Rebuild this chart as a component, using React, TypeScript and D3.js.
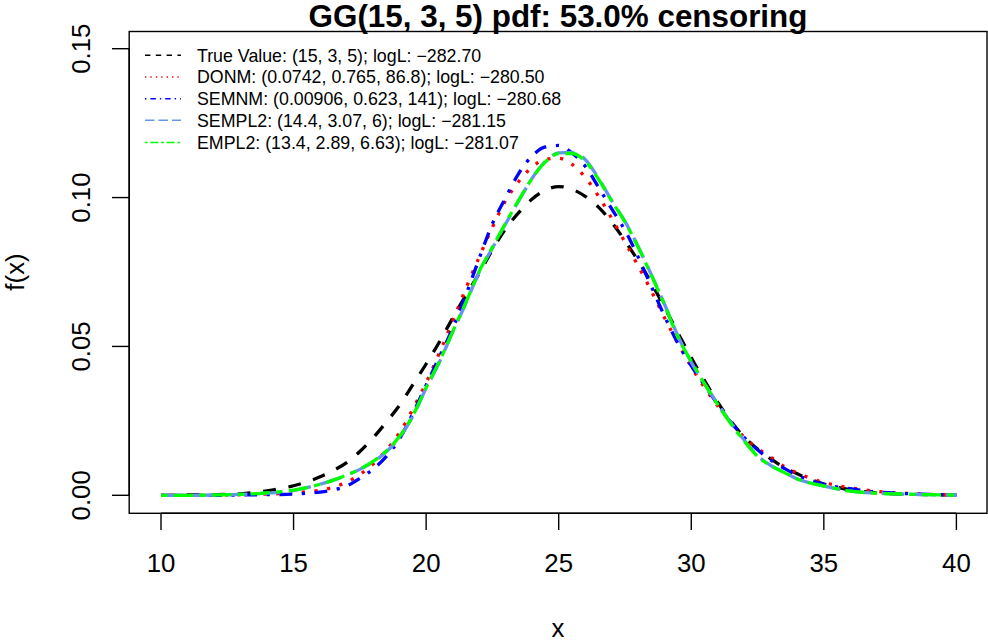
import React from "react";
import * as d3 from "d3";

const xs = [10, 11, 12, 13, 14, 15, 15.5, 16, 16.5, 17, 17.5, 18, 18.5, 19, 19.5, 20, 20.5, 21, 21.5, 22, 22.5, 23, 23.5, 24, 24.5, 25, 25.5, 26, 26.5, 27, 27.5, 28, 28.5, 29, 29.5, 30, 30.5, 31, 31.5, 32, 32.5, 33, 33.5, 34, 34.5, 35, 36, 37, 38, 39, 40];

const trueVals = [0.0000, 0.0001, 0.0002, 0.0005, 0.0015, 0.0032, 0.0045, 0.0062, 0.0083, 0.0110, 0.0147, 0.0193, 0.0246, 0.0303, 0.0372, 0.0441, 0.0515, 0.0595, 0.0672, 0.0745, 0.0825, 0.0895, 0.0950, 0.0995, 0.1025, 0.1037, 0.1028, 0.1004, 0.0968, 0.0917, 0.0855, 0.0787, 0.0712, 0.0630, 0.0545, 0.0462, 0.0385, 0.0312, 0.0248, 0.0195, 0.0155, 0.0122, 0.0094, 0.0072, 0.0053, 0.0038, 0.0018, 0.0008, 0.0004, 0.0002, 0.0001];

const donmVals = [0.0000, 0.0000, 0.0001, 0.0002, 0.0004, 0.0008, 0.0012, 0.0017, 0.0027, 0.0044, 0.0070, 0.0105, 0.0152, 0.0210, 0.0290, 0.0378, 0.0478, 0.0585, 0.0695, 0.0800, 0.0900, 0.0990, 0.1055, 0.1103, 0.1128, 0.1132, 0.1112, 0.1068, 0.1005, 0.0930, 0.0850, 0.0770, 0.0685, 0.0595, 0.0510, 0.0432, 0.0362, 0.0300, 0.0245, 0.0195, 0.0157, 0.0128, 0.0097, 0.0075, 0.0057, 0.0043, 0.0025, 0.0013, 0.0007, 0.0003, 0.0001];

const semnmVals = [0.0000, 0.0000, 0.0000, 0.0001, 0.0002, 0.0004, 0.0007, 0.0011, 0.0018, 0.0031, 0.0057, 0.0088, 0.0131, 0.0190, 0.0275, 0.0370, 0.0465, 0.0560, 0.0673, 0.0795, 0.0912, 0.1000, 0.1082, 0.1140, 0.1170, 0.1175, 0.1150, 0.1105, 0.1035, 0.0962, 0.0890, 0.0800, 0.0700, 0.0600, 0.0510, 0.0435, 0.0370, 0.0305, 0.0245, 0.0194, 0.0153, 0.0118, 0.0091, 0.0067, 0.0050, 0.0037, 0.0022, 0.0011, 0.0006, 0.0003, 0.0001];

const sempl2Vals = [0.0000, 0.0000, 0.0001, 0.0003, 0.0007, 0.0016, 0.0026, 0.0037, 0.0051, 0.0067, 0.0087, 0.0112, 0.0146, 0.0195, 0.0265, 0.0360, 0.0447, 0.0548, 0.0645, 0.0750, 0.0830, 0.0912, 0.0990, 0.1065, 0.1122, 0.1150, 0.1152, 0.1128, 0.1065, 0.0990, 0.0920, 0.0835, 0.0740, 0.0640, 0.0535, 0.0447, 0.0375, 0.0307, 0.0243, 0.0185, 0.0133, 0.0100, 0.0078, 0.0055, 0.0041, 0.0031, 0.0014, 0.0007, 0.0004, 0.0002, 0.0001];

const empl2Vals = [0.0000, 0.0000, 0.0001, 0.0003, 0.0008, 0.0017, 0.0026, 0.0037, 0.0051, 0.0068, 0.0088, 0.0114, 0.0149, 0.0198, 0.0268, 0.0362, 0.0450, 0.0550, 0.0648, 0.0752, 0.0833, 0.0915, 0.0992, 0.1065, 0.1120, 0.1148, 0.1148, 0.1122, 0.1062, 0.0988, 0.0918, 0.0833, 0.0738, 0.0638, 0.0530, 0.0450, 0.0374, 0.0305, 0.0240, 0.0182, 0.0131, 0.0099, 0.0077, 0.0055, 0.0041, 0.0031, 0.0014, 0.0007, 0.0004, 0.0002, 0.0001];

const seriesLabels = [
  "True Value: (15, 3, 5); logL: \u2212282.70",
  "DONM: (0.0742, 0.765, 86.8); logL: \u2212280.50",
  "SEMNM: (0.00906, 0.623, 141); logL: \u2212280.68",
  "SEMPL2: (14.4, 3.07, 6); logL: \u2212281.15",
  "EMPL2: (13.4, 2.89, 6.63); logL: \u2212281.07",
];
const seriesColors = ["#000000", "#FF0000", "#0000FF", "#6495ED", "#00FF00"];
const seriesDash = [[4, 4], [1, 3], [1, 3, 4, 3], [7, 3], [2, 2, 6, 2]];

const xTicks = [10, 15, 20, 25, 30, 35, 40];
const yTicks = [0, 0.05, 0.1, 0.15];
const yTickLabels = ["0.00", "0.05", "0.10", "0.15"];

const title = "GG(15, 3, 5) pdf: 53.0% censoring";
const xLabel = "x";
const yLabel = "f(x)";

const FONT = "'Liberation Sans', Arial, Helvetica, sans-serif";

export default function App() {
  const W = 988, H = 642;
  const box = { left: 129.2, right: 987, top: 31.5, bottom: 513.3 };
  const x = d3.scaleLinear().domain([10, 40]).range([161, 956.4]);
  const y = d3.scaleLinear().domain([0, 0.15]).range([495.3, 48.7]);
  const allSeries = [trueVals, donmVals, semnmVals, sempl2Vals, empl2Vals];
  const line = d3
    .line<number>()
    .x((_, i) => x(xs[i]))
    .y((d) => y(d))
    .curve(d3.curveMonotoneX);
  const u = 3.2;
  const lu = 1.35;
  const legendRows = [55.3, 77, 98.7, 120.3, 142.5];

  return (
    <svg
      width={W}
      height={H}
      style={{ position: "absolute", left: 0, top: 0, background: "#fff" }}
      fontFamily={FONT}
    >
      <rect x={0} y={0} width={W} height={H} fill="#fff" />
      {allSeries.map((vals, si) => (
        <path
          key={si}
          d={line(vals) || ""}
          fill="none"
          stroke={seriesColors[si]}
          strokeWidth={3.3}
          strokeDasharray={seriesDash[si].map((v) => v * u).join(",")}
          strokeLinecap="butt"
          strokeLinejoin="round"
        />
      ))}
      <rect
        x={box.left}
        y={box.top}
        width={box.right - box.left}
        height={box.bottom - box.top}
        fill="none"
        stroke="#000"
        strokeWidth={1.4}
      />
      {/* x axis */}
      <line x1={x(10)} x2={x(40)} y1={box.bottom} y2={box.bottom} stroke="#000" strokeWidth={1.4} />
      {xTicks.map((t) => (
        <g key={t}>
          <line x1={x(t)} x2={x(t)} y1={box.bottom} y2={530} stroke="#000" strokeWidth={1.4} />
          <text x={x(t)} y={572} textAnchor="middle" fontSize={25.8} fill="#000">
            {t}
          </text>
        </g>
      ))}
      {/* y axis */}
      <line x1={box.left} x2={box.left} y1={y(0)} y2={y(0.15)} stroke="#000" strokeWidth={1.4} />
      {yTicks.map((t, i) => (
        <g key={t}>
          <line x1={112} x2={box.left} y1={y(t)} y2={y(t)} stroke="#000" strokeWidth={1.4} />
          <text
            transform={`translate(90,${y(t)}) rotate(-90)`}
            textAnchor="middle"
            fontSize={25.8}
            fill="#000"
          >
            {yTickLabels[i]}
          </text>
        </g>
      ))}
      <text x={558} y={27} textAnchor="middle" fontSize={31.4} fontWeight="bold" fill="#000">
        {title}
      </text>
      <text x={558} y={637} textAnchor="middle" fontSize={25.8} fill="#000">
        {xLabel}
      </text>
      <text transform={`translate(24,272) rotate(-90)`} textAnchor="middle" fontSize={25.8} fill="#000">
        {yLabel}
      </text>
      {/* legend */}
      {seriesLabels.map((lab, i) => (
        <g key={lab}>
          <line
            x1={145}
            x2={181}
            y1={legendRows[i]}
            y2={legendRows[i]}
            stroke={seriesColors[i]}
            strokeWidth={1.5}
            strokeDasharray={seriesDash[i].map((v) => v * lu).join(",")}
          />
          <text x={197} y={legendRows[i] + 6.3} fontSize={17.8} fill="#000">
            {lab}
          </text>
        </g>
      ))}
    </svg>
  );
}
